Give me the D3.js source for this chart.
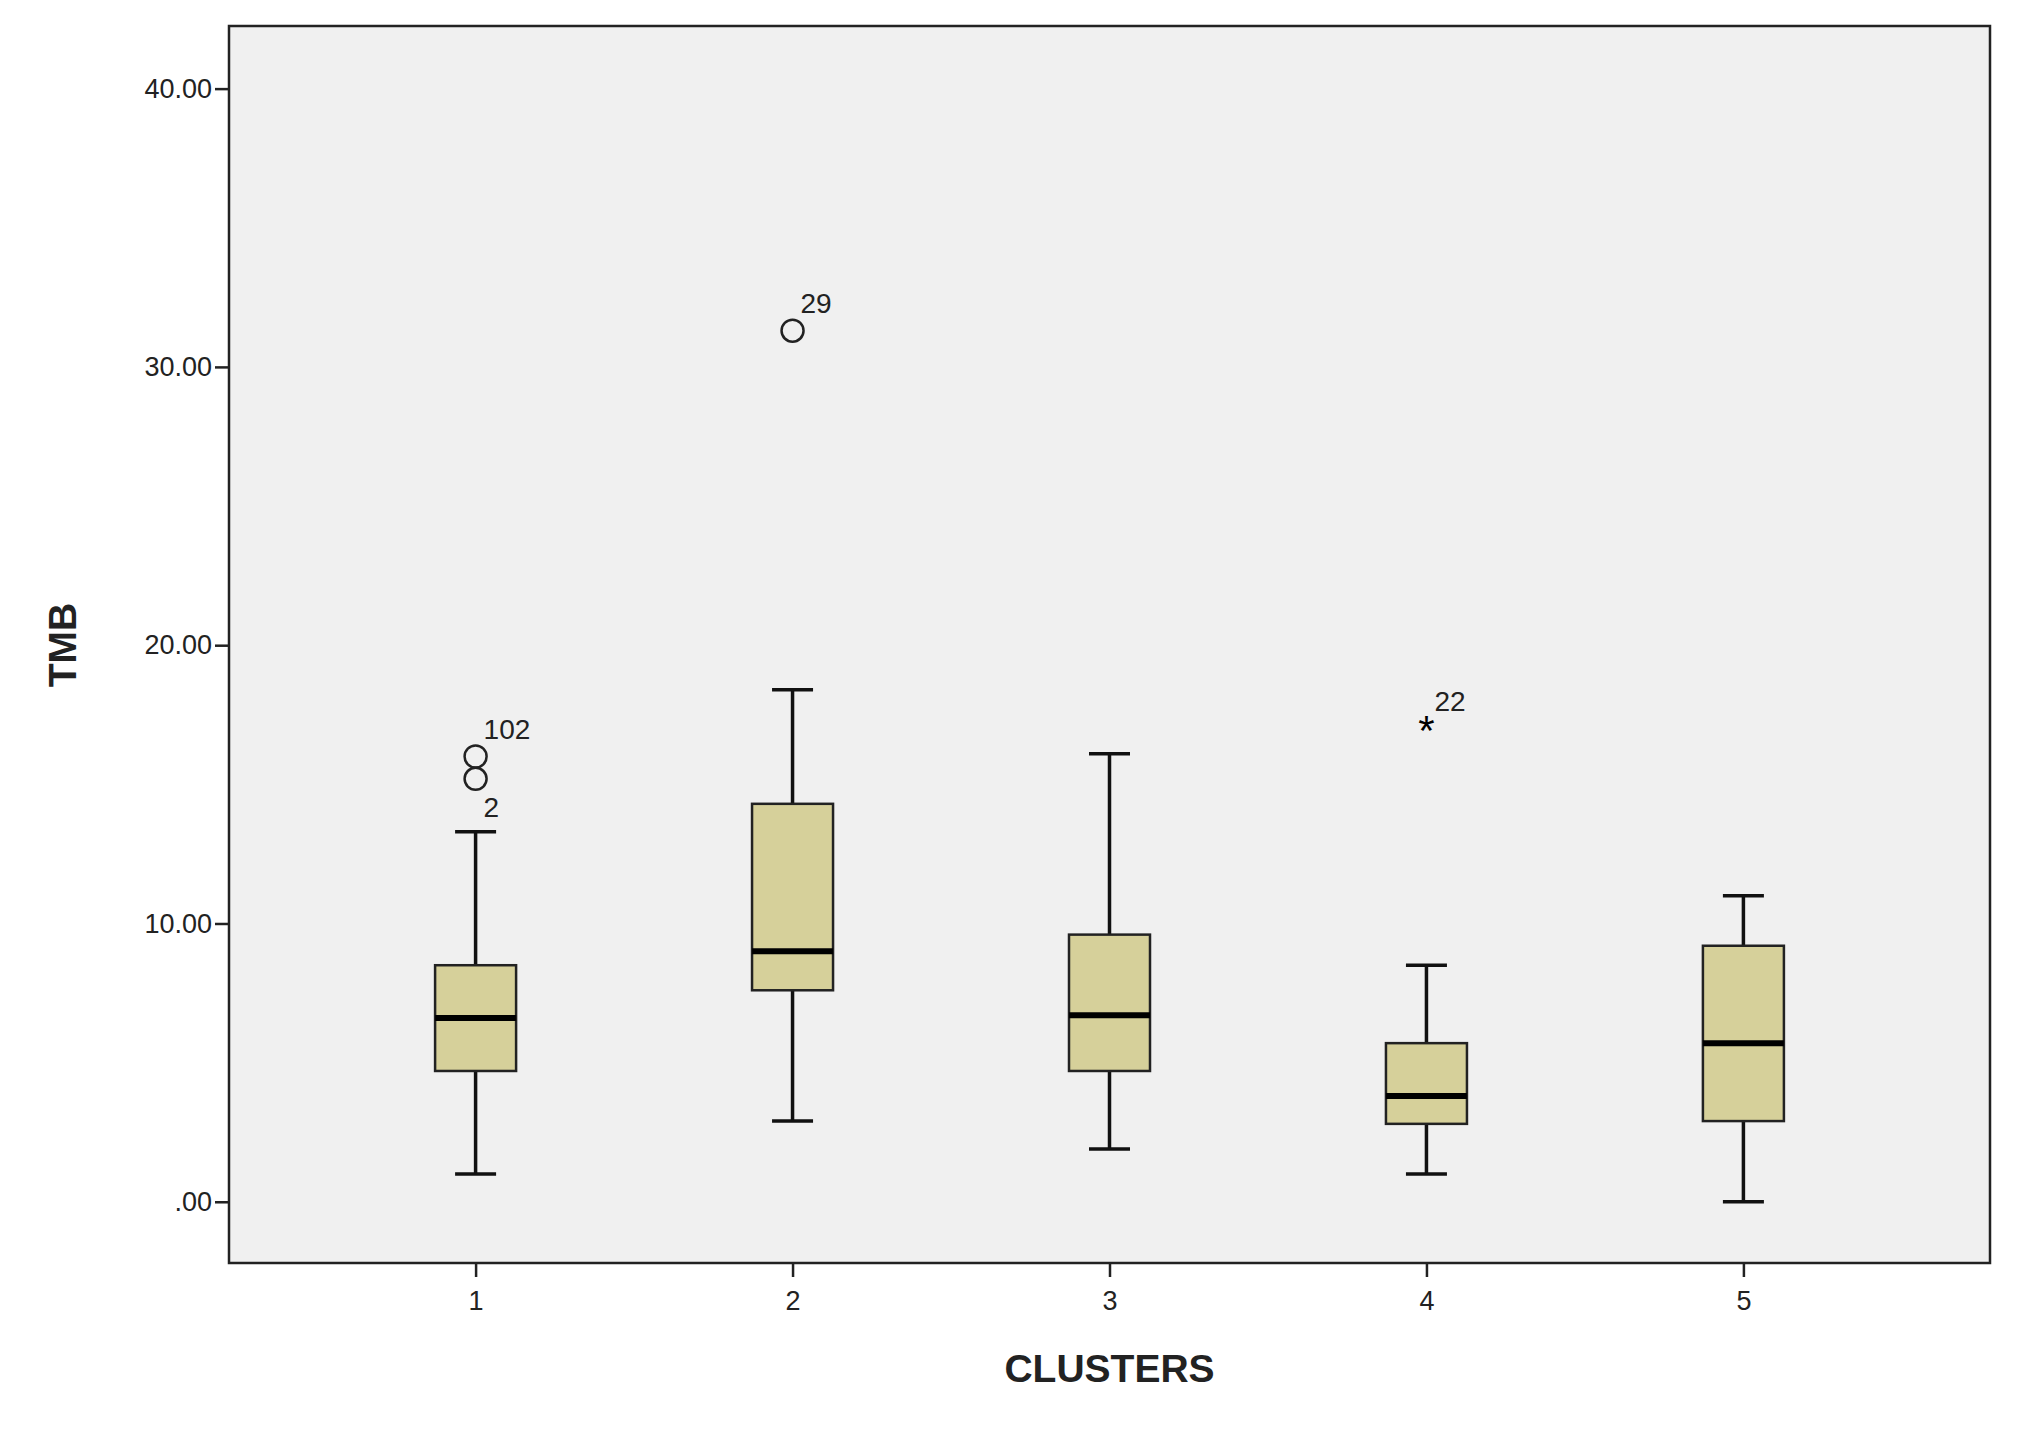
<!DOCTYPE html><html><head><meta charset="utf-8"><script src="https://cdn.jsdelivr.net/npm/d3@7"></script>
<style>body{margin:0;background:#fff}</style></head><body><svg id="c" width="2044" height="1433"></svg>
<script>
const categories=["1","2","3","4","5"];
const whiskerLow=[1.0,2.9,1.9,1.0,0.0];
const q1=[4.7,7.6,4.7,2.8,2.9];
const median=[6.6,9.0,6.7,3.8,5.7];
const q3=[8.5,14.3,9.6,5.7,9.2];
const whiskerHigh=[13.3,18.4,16.1,8.5,11.0];
const outliers=[{c:"1",v:16.0,label:"102",type:"o"},{c:"1",v:15.2,label:"2",type:"o"},{c:"2",v:31.3,label:"29",type:"o"},{c:"4",v:17.0,label:"22",type:"*"}];
const yTicks=[0,10,20,30,40];
const svg=d3.select("#c");
const L=229,R=1990,T=26,B=1263;
const x=d3.scalePoint().domain(categories).range([L,R]).padding(0.778);
const y=d3.scaleLinear().domain([-2.2,42.25]).range([B,T]);
svg.append("rect").attr("x",L).attr("y",T).attr("width",R-L).attr("height",B-T).attr("fill","#f0f0f0").attr("stroke","#222").attr("stroke-width",2.5);
const ya=svg.append("g").attr("transform",`translate(${L},0)`).call(d3.axisLeft(y).tickValues(yTicks).tickSize(14).tickFormat(d=>d===0?".00":d.toFixed(2)));
const xa=svg.append("g").attr("transform",`translate(0,${B})`).call(d3.axisBottom(x).tickSize(14));
[ya,xa].forEach(a=>{a.select(".domain").remove();a.selectAll("line").attr("stroke","#222").attr("stroke-width",2.5);a.selectAll("text").attr("font-family","Arial, Liberation Sans, sans-serif").attr("font-size",27).attr("fill","#222");});
xa.selectAll("text").attr("dy","1.1em");
const bw=81,cap=41;
const g=svg.append("g");
categories.forEach((c,i)=>{
  const cx=x(c);
  g.append("line").attr("x1",cx).attr("x2",cx).attr("y1",y(whiskerLow[i])).attr("y2",y(q1[i])).attr("stroke","#111").attr("stroke-width",3.5);
  g.append("line").attr("x1",cx).attr("x2",cx).attr("y1",y(q3[i])).attr("y2",y(whiskerHigh[i])).attr("stroke","#111").attr("stroke-width",3.5);
  [whiskerLow[i],whiskerHigh[i]].forEach(v=>g.append("line").attr("x1",cx-cap/2).attr("x2",cx+cap/2).attr("y1",y(v)).attr("y2",y(v)).attr("stroke","#111").attr("stroke-width",3.5));
  g.append("rect").attr("x",cx-bw/2).attr("width",bw).attr("y",y(q3[i])).attr("height",y(q1[i])-y(q3[i])).attr("fill","#d6d09a").attr("stroke","#222").attr("stroke-width",2.5);
  g.append("line").attr("x1",cx-bw/2).attr("x2",cx+bw/2).attr("y1",y(median[i])).attr("y2",y(median[i])).attr("stroke","#000").attr("stroke-width",6);
});
outliers.forEach(o=>{
  const cx=x(o.c),cy=y(o.v);
  if(o.type==="o") g.append("circle").attr("cx",cx).attr("cy",cy).attr("r",11).attr("fill","none").attr("stroke","#222").attr("stroke-width",2.5);
  else g.append("text").attr("x",cx).attr("y",cy+16).attr("text-anchor","middle").attr("font-family","Arial, Liberation Sans, sans-serif").attr("font-size",42).text("*");
  const lbl2=o.label==="2";
  g.append("text").attr("x",cx+(lbl2?8:8)).attr("y",lbl2?cy+38:cy-18).attr("font-family","Arial, Liberation Sans, sans-serif").attr("font-size",28).attr("fill","#222").text(o.label);
});
svg.append("text").attr("x",(L+R)/2).attr("y",1382).attr("text-anchor","middle").attr("font-family","Arial, Liberation Sans, sans-serif").attr("font-weight","bold").attr("font-size",39).attr("fill","#222").text("CLUSTERS");
svg.append("text").attr("transform","translate(76,645) rotate(-90)").attr("text-anchor","middle").attr("font-family","Arial, Liberation Sans, sans-serif").attr("font-weight","bold").attr("font-size",39).attr("fill","#222").text("TMB");
</script></body></html>
